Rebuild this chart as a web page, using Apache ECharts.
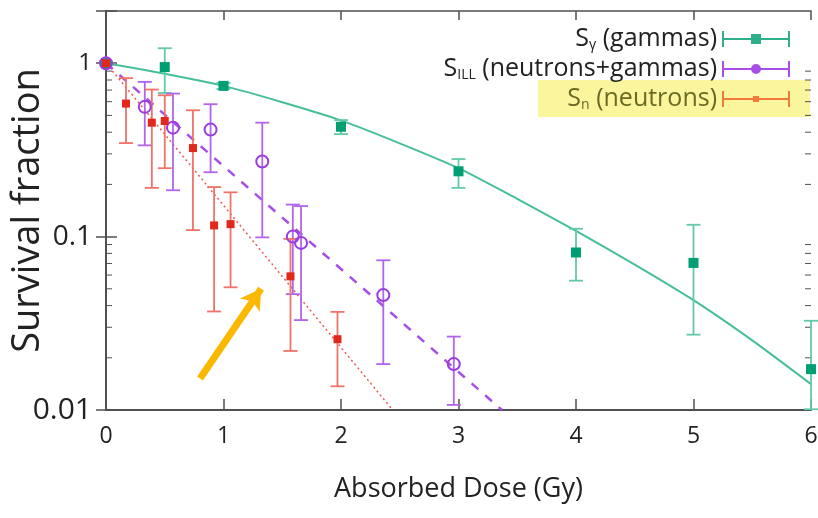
<!DOCTYPE html>
<html>
<head>
<meta charset="utf-8">
<script src="https://cdn.jsdelivr.net/npm/echarts@6/dist/echarts.min.js"></script>
<style>
  html, body { margin: 0; padding: 0; background: #fff; }
  #chart { width: 818px; height: 518px; }
</style>
</head>
<body>
<div id="chart"></div>
<script>
// S_gamma (gammas)
var gammaDose = [0, 0.5, 1, 2, 3, 4, 5, 6];
var gammaSurv = [1, 0.95, 0.74, 0.43, 0.238, 0.081, 0.0705, 0.0172];
var gammaLow  = [1, 0.673, 0.71, 0.39, 0.191, 0.0557, 0.0272, 0.0101];
var gammaHigh = [1, 1.22, 0.77, 0.47, 0.28, 0.111, 0.117, 0.0327];

// S_ILL (neutrons+gammas)
var illDose = [0, 0.33, 0.57, 0.89, 1.33, 1.59, 1.66, 2.36, 2.96];
var illSurv = [1, 0.56, 0.425, 0.414, 0.271, 0.1, 0.092, 0.046, 0.0184];
var illLow  = [1, 0.336, 0.185, 0.235, 0.099, 0.0466, 0.033, 0.0184, 0.0107];
var illHigh = [1, 0.78, 0.668, 0.58, 0.454, 0.153, 0.15, 0.073, 0.0265];

// S_n (neutrons)
var neutDose = [0, 0.17, 0.39, 0.5, 0.74, 0.92, 1.06, 1.57, 1.97];
var neutSurv = [1, 0.585, 0.454, 0.464, 0.324, 0.116, 0.118, 0.059, 0.0256];
var neutLow  = [1, 0.346, 0.191, 0.248, 0.109, 0.037, 0.051, 0.0219, 0.0137];
var neutHigh = [1, 0.82, 0.705, 0.653, 0.535, 0.193, 0.18, 0.097, 0.0368];

// fitted curves
var gammaFitDose = [0, 0.5, 1, 1.5, 2, 2.5, 3, 3.5, 4, 4.5, 5, 5.5, 6];
var gammaFitSurv = [1, 0.87, 0.74, 0.596, 0.468, 0.345, 0.248, 0.165, 0.108, 0.069, 0.043, 0.0252, 0.0141];
var illFitDose = [0, 3.37];
var illFitSurv = [1, 0.01];
var neutFitDose = [0, 2.44];
var neutFitSurv = [1, 0.01];

// arrow annotation
var arrowDose = [0.8, 1.32];
var arrowSurv = [0.0152, 0.05];

var xMin = 0, xMax = 6;
var yMin = 0.01, yMax = 2;
var yLabels = ['0.01', '0.1', '1'];
var yLabelSizes = ['l2', 'l1', 'l0'];
var yMinorTicks = [0.02, 0.03, 0.04, 0.05, 0.06, 0.07, 0.08, 0.09,
                   0.2, 0.3, 0.4, 0.5, 0.6, 0.7, 0.8, 0.9];

var FONT = 'Open Sans';
var axisColor = '#505050';

function zip(a, b, c) {
    return a.map(function (v, i) { return c ? [v, b[i], c[i]] : [v, b[i]]; });
}

// vertical error bar with caps
function errorBars(color) {
    return function (params, api) {
        var x = api.value(0), lo = api.value(1), hi = api.value(2);
        if (lo === hi) return null;
        var top = api.coord([x, hi]);
        var bot = api.coord([x, lo]);
        var w = 7;
        var style = { stroke: color, lineWidth: 1.8 };
        return {
            type: 'group',
            children: [
                { type: 'line', shape: { x1: top[0], y1: top[1], x2: bot[0], y2: bot[1] }, style: style },
                { type: 'line', shape: { x1: top[0] - w, y1: top[1], x2: top[0] + w, y2: top[1] }, style: style },
                { type: 'line', shape: { x1: bot[0] - w, y1: bot[1], x2: bot[0] + w, y2: bot[1] }, style: style }
            ]
        };
    };
}

// log minor ticks on left and right sides
function minorTicks(params, api) {
    var v = api.value(1);
    var l = api.coord([xMin, v]);
    var r = api.coord([xMax, v]);
    var style = { stroke: axisColor, lineWidth: 1 };
    return {
        type: 'group',
        children: [
            { type: 'line', shape: { x1: l[0], y1: l[1], x2: l[0] + 6, y2: l[1] }, style: style },
            { type: 'line', shape: { x1: r[0], y1: r[1], x2: r[0] - 6, y2: r[1] }, style: style }
        ]
    };
}

var barLine = 'M0 0L2 0L2 7L66 7L66 0L68 0L68 16L66 16L66 9L2 9L2 16L0 16Z';
var iconGamma = 'path://M0 0L2 0L2 7L29 7L29 3L39 3L39 7L66 7L66 0L68 0L68 16L66 16L66 9L39 9L39 13L29 13L29 9L2 9L2 16L0 16Z';
var iconIll = 'path://' + barLine + 'M29 8A5 5 0 0 1 39 8A5 5 0 0 1 29 8Z';
var iconNeut = 'path://M0 0L2 0L2 7L31 7L31 5L37 5L37 7L66 7L66 0L68 0L68 16L66 16L66 9L37 9L37 11L31 11L31 9L2 9L2 16L0 16Z';

var legendText = {
    gamma: '{t|S}{sub|γ}{t| (gammas)}',
    ill: '{t|S}{sub|ILL}{t| (neutrons+gammas)}',
    neut: '{h|S}{hs|n}{h| (neutrons)}'
};

var chart = echarts.init(document.getElementById('chart'));

var option = {
    animation: false,
    backgroundColor: '#fff',
    grid: { left: 106, right: 7, top: 11, bottom: 108, outerBoundsMode: 'none' },
    graphic: [{
        type: 'rect', z: 1,
        shape: { x: 538, y: 80, width: 272, height: 37 },
        style: { fill: '#fbf59e' }
    }],
    legend: {
        orient: 'vertical', right: 23, top: 21, align: 'right',
        itemWidth: 68, itemHeight: 16, itemGap: 4,
        z: 5,
        data: [
            { name: 'gamma', icon: iconGamma, itemStyle: { color: '#2fae8a', borderWidth: 0 } },
            { name: 'ill', icon: iconIll, itemStyle: { color: '#a64ee6', borderWidth: 0 } },
            { name: 'neut', icon: iconNeut, itemStyle: { color: '#f07a3c', borderWidth: 0 } }
        ],
        formatter: function (name) { return legendText[name]; },
        textStyle: {
            fontFamily: FONT, fontSize: 25, color: '#222', lineHeight: 26,
            rich: {
                t: { fontFamily: FONT, fontSize: 25, color: '#222', lineHeight: 26 },
                sub: { fontFamily: FONT, fontSize: 14, color: '#222', padding: [12, 0, 0, 0] },
                h: { fontFamily: FONT, fontSize: 25, color: '#6b6a25', lineHeight: 26 },
                hs: { fontFamily: FONT, fontSize: 14, color: '#6b6a25', padding: [12, 0, 0, 0] }
            }
        }
    },
    xAxis: [{
        type: 'value', min: xMin, max: xMax, interval: 1, position: 'bottom',
        name: 'Absorbed Dose (Gy)', nameLocation: 'middle', nameGap: 66, nameMoveOverlap: false,
        nameTextStyle: { fontFamily: FONT, fontSize: 27, color: '#222' },
        axisLine: { show: true, lineStyle: { color: axisColor, width: 2 } },
        axisTick: { show: true, inside: true, length: 11, lineStyle: { color: axisColor, width: 1.5 } },
        axisLabel: { fontFamily: FONT, fontSize: 23, color: '#222', margin: 15 },
        splitLine: { show: false }
    }, {
        type: 'value', min: xMin, max: xMax, interval: 1, position: 'top',
        axisLine: { show: true, lineStyle: { color: axisColor, width: 1.5 } },
        axisTick: { show: true, inside: true, length: 9, lineStyle: { color: axisColor, width: 1.5 } },
        axisLabel: { show: false },
        splitLine: { show: false }
    }],
    yAxis: [{
        type: 'log', logBase: 10, min: yMin, max: yMax, interval: 1, position: 'left',
        name: 'Survival fraction', nameLocation: 'middle', nameGap: 59, nameMoveOverlap: false,
        nameTextStyle: { fontFamily: FONT, fontSize: 38, color: '#222' },
        axisLine: { show: true, lineStyle: { color: axisColor, width: 2 } },
        axisTick: { show: true, inside: true, length: 11, lineStyle: { color: axisColor, width: 1.5 } },
        axisLabel: {
            fontFamily: FONT, fontSize: 24, color: '#222', margin: 14,
            formatter: function (v) {
                var e = Math.log10(v);
                if (Math.abs(e - Math.round(e)) > 1e-6) return '';
                var idx = Math.round(e) + 2;
                if (!yLabels[idx]) return '';
                return '{' + yLabelSizes[idx] + '|' + yLabels[idx] + '}';
            },
            rich: {
                l0: { fontFamily: FONT, fontSize: 24, color: '#222' },
                l1: { fontFamily: FONT, fontSize: 28, color: '#222' },
                l2: { fontFamily: FONT, fontSize: 30, color: '#222' }
            }
        },
        splitLine: { show: false }
    }, {
        type: 'log', logBase: 10, min: yMin, max: yMax, interval: 1, position: 'right',
        axisLine: { show: true, lineStyle: { color: axisColor, width: 1.5 } },
        axisTick: { show: true, inside: true, length: 10, lineStyle: { color: axisColor, width: 1.5 } },
        axisLabel: { show: false },
        splitLine: { show: false }
    }],
    series: [
        {
            name: 'minor', type: 'custom', renderItem: minorTicks, silent: true, z: 3,
            data: yMinorTicks.map(function (v) { return [xMin, v]; })
        },
        {
            name: 'gammaFit', type: 'line', data: zip(gammaFitDose, gammaFitSurv),
            smooth: 0.2, showSymbol: false, silent: true,
            lineStyle: { color: '#45bf9a', width: 2 }
        },
        {
            name: 'illFit', type: 'line', data: zip(illFitDose, illFitSurv),
            showSymbol: false, silent: true,
            lineStyle: { color: '#a64ee6', width: 2.5, type: [9, 9] }
        },
        {
            name: 'neutFit', type: 'line', data: zip(neutFitDose, neutFitSurv),
            showSymbol: false, silent: true,
            lineStyle: { color: '#ef5a50', width: 1.5, type: [2, 3] }
        },
        {
            name: 'gammaErr', type: 'custom', renderItem: errorBars('#62c9a9'),
            data: zip(gammaDose, gammaLow, gammaHigh), z: 4
        },
        {
            name: 'illErr', type: 'custom', renderItem: errorBars('#b264ec'),
            data: zip(illDose, illLow, illHigh), z: 4
        },
        {
            name: 'neutErr', type: 'custom', renderItem: errorBars('#f07268'),
            data: zip(neutDose, neutLow, neutHigh), z: 4
        },
        {
            name: 'gamma', type: 'scatter', data: zip(gammaDose, gammaSurv),
            symbol: 'rect', symbolSize: 10, z: 6,
            itemStyle: { color: '#009e73', opacity: 1 },
            markLine: {
                silent: true, symbol: ['none', 'arrow'], symbolSize: [18, 20],
                label: { show: false },
                lineStyle: { color: '#fbb800', width: 7, type: 'solid' },
                data: [[{ coord: [arrowDose[0], arrowSurv[0]] }, { coord: [arrowDose[1], arrowSurv[1]] }]]
            }
        },
        {
            name: 'ill', type: 'scatter', data: zip(illDose, illSurv),
            symbol: 'circle', symbolSize: 12, z: 6,
            itemStyle: { color: 'rgba(255,255,255,0)', borderColor: '#9b3be0', borderWidth: 2, opacity: 1 }
        },
        {
            name: 'neut', type: 'scatter', data: zip(neutDose, neutSurv),
            symbol: 'rect', symbolSize: 8, z: 6,
            itemStyle: { color: '#e2271b', opacity: 1 }
        }
    ]
};

chart.setOption(option);
</script>
</body>
</html>
